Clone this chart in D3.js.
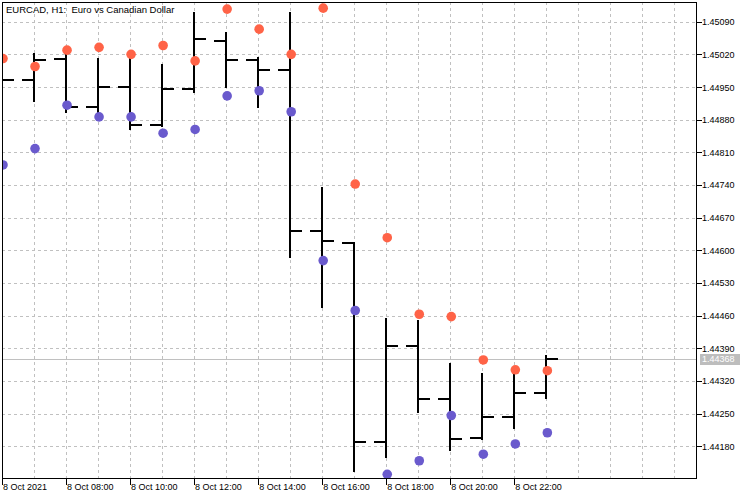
<!DOCTYPE html>
<html>
<head>
<meta charset="utf-8">
<script src="https://cdn.jsdelivr.net/npm/d3@7/dist/d3.min.js"></script>
<style>
  html, body { margin: 0; padding: 0; background: #fff; }
  svg { display: block; font-family: "Liberation Sans", Arial, sans-serif; }
</style>
</head>
<body>
<svg id="chart" width="750" height="500"></svg>
<script>
// ---- data ----
const title = "EURCAD, H1:  Euro vs Canadian Dollar";
const hours = ["06:00","07:00","08:00","09:00","10:00","11:00","12:00","13:00","14:00",
               "15:00","16:00","17:00","18:00","19:00","20:00","21:00","22:00","23:00"];
const openV  = [1.44960,1.44964,1.45010,1.44908,1.44949,1.44869,1.44946,1.45049,1.45008,
                1.44987,1.44641,1.44616,1.44190,1.44396,1.44282,1.44198,1.44243,1.44295];
const highV  = [1.44985,1.45021,1.45022,1.45009,1.45009,1.44997,1.45108,1.45065,1.45012,
                1.45108,1.44733,1.44616,1.44452,1.44449,1.44356,1.44334,1.44333,1.44374];
const lowV   = [1.44940,1.44921,1.44897,1.44879,1.44859,1.44867,1.44940,1.44951,1.44907,
                1.44586,1.44479,1.44127,1.44158,1.44254,1.44171,1.44196,1.44219,1.44283];
const closeV = [1.44964,1.45008,1.44908,1.44951,1.44869,1.44946,1.45053,1.45008,1.44987,
                1.44642,1.44619,1.44190,1.44396,1.44282,1.44196,1.44243,1.44295,1.44368];
const upperDots = [1.45011,1.44994,1.45029,1.45035,1.45020,1.45039,1.45006,1.45117,1.45074,
                   1.45020,1.45119,1.44742,1.44627,1.44463,1.44458,1.44365,1.44344,1.44342];
const lowerDots = [1.44783,1.44818,1.44911,1.44886,1.44886,1.44851,1.44859,1.44931,1.44942,
                   1.44897,1.44578,1.44471,1.44120,1.44149,1.44246,1.44163,1.44185,1.44209];
const yTicks = [1.44180,1.44250,1.44320,1.44390,1.44460,1.44530,1.44600,1.44670,
                1.44740,1.44810,1.44880,1.44950,1.45020,1.45090];
const xTickIdx = [0,2,4,6,8,10,12,14,16];
const xTickLabels = ["8 Oct 2021","8 Oct 08:00","8 Oct 10:00","8 Oct 12:00","8 Oct 14:00",
                     "8 Oct 16:00","8 Oct 18:00","8 Oct 20:00","8 Oct 22:00"];
const lastPrice = 1.44368;

// ---- layout ----
const L = 2, R = 697, T = 2, B = 479;
const svg = d3.select("#chart");
const x = d3.scaleLinear().domain([0, 21.705]).range([L, R]);
const y = d3.scaleLinear().domain([1.441099, 1.451322]).range([B, T]);

const clip = svg.append("clipPath").attr("id","plot")
  .append("rect").attr("x",L).attr("y",T).attr("width",R-L).attr("height",B-T);

// grid
const grid = svg.append("g").attr("stroke","#c0c0c0").attr("stroke-dasharray","3,3")
  .attr("shape-rendering","crispEdges");
grid.selectAll("line.h").data(yTicks).join("line").attr("class","h")
  .attr("x1",L).attr("x2",R)
  .attr("y1",d=>Math.round(y(d))+0.5).attr("y2",d=>Math.round(y(d))+0.5);
grid.selectAll("line.v").data(d3.range(1,22)).join("line").attr("class","v")
  .attr("y1",T).attr("y2",B)
  .attr("x1",d=>Math.round(x(d))+0.5).attr("x2",d=>Math.round(x(d))+0.5);

// current price line
svg.append("line").attr("x1",L).attr("x2",R)
  .attr("y1",Math.round(y(lastPrice))+0.5).attr("y2",Math.round(y(lastPrice))+0.5)
  .attr("stroke","#c0c0c0").attr("shape-rendering","crispEdges");

const plot = svg.append("g").attr("clip-path","url(#plot)");

// OHLC bars
const bars = hours.map((h,i)=>({i,o:openV[i],h:highV[i],l:lowV[i],c:closeV[i]}));
const bg = plot.append("g").attr("stroke","#000").attr("stroke-width",2)
  .attr("shape-rendering","crispEdges");
const px = i => Math.round(x(i));
bg.selectAll("line.hl").data(bars).join("line").attr("class","hl")
  .attr("x1",d=>px(d.i)).attr("x2",d=>px(d.i))
  .attr("y1",d=>Math.round(y(d.h))-1).attr("y2",d=>Math.round(y(d.l))+1);
bg.selectAll("line.o").data(bars).join("line").attr("class","o")
  .attr("x1",d=>px(d.i)-12).attr("x2",d=>px(d.i))
  .attr("y1",d=>Math.round(y(d.o))).attr("y2",d=>Math.round(y(d.o)));
bg.selectAll("line.c").data(bars).join("line").attr("class","c")
  .attr("x1",d=>px(d.i)).attr("x2",d=>px(d.i)+12)
  .attr("y1",d=>Math.round(y(d.c))).attr("y2",d=>Math.round(y(d.c)));

// dots
plot.append("g").selectAll("circle").data(upperDots).join("circle")
  .attr("cx",(d,i)=>x(i)+1).attr("cy",d=>y(d)).attr("r",4.8).attr("fill","#ff6347");
plot.append("g").selectAll("circle").data(lowerDots).join("circle")
  .attr("cx",(d,i)=>x(i)+1).attr("cy",d=>y(d)).attr("r",4.8).attr("fill","#6a5acd");

// frame
svg.append("rect").attr("x",L+0.5).attr("y",T+0.5).attr("width",R-L-1).attr("height",B-T-1)
  .attr("fill","none").attr("stroke","#000").attr("shape-rendering","crispEdges");

// y axis
const ya = svg.append("g");
ya.selectAll("line").data(yTicks).join("line")
  .attr("x1",R).attr("x2",R+5)
  .attr("y1",d=>Math.round(y(d))+0.5).attr("y2",d=>Math.round(y(d))+0.5)
  .attr("stroke","#000").attr("shape-rendering","crispEdges");
ya.selectAll("text").data(yTicks).join("text")
  .attr("x",R+5).attr("y",d=>y(d)+3.5).attr("font-size",9).attr("fill","#000")
  .text(d=>d.toFixed(5));

// last price label
const lp = svg.append("g");
lp.append("rect").attr("x",R+3).attr("y",Math.round(y(lastPrice))-5).attr("width",40).attr("height",11)
  .attr("fill","#bdbdbd");
lp.append("text").attr("x",R+5).attr("y",y(lastPrice)+3.5).attr("font-size",9).attr("fill","#fff")
  .text(lastPrice.toFixed(5));

// x axis
const xa = svg.append("g");
xa.selectAll("line").data(xTickIdx).join("line")
  .attr("x1",d=>Math.round(x(d))+0.5).attr("x2",d=>Math.round(x(d))+0.5)
  .attr("y1",B).attr("y2",B+6)
  .attr("stroke","#000").attr("shape-rendering","crispEdges");
xa.selectAll("text").data(xTickIdx).join("text")
  .attr("x",d=>x(d)+1).attr("y",B+10.5).attr("font-size",9).attr("fill","#000")
  .text((d,i)=>xTickLabels[i]);

// title
svg.append("text").attr("x",6).attr("y",13).attr("font-size",9.5).attr("fill","#000")
  .style("white-space","pre").text(title);
</script>
</body>
</html>
